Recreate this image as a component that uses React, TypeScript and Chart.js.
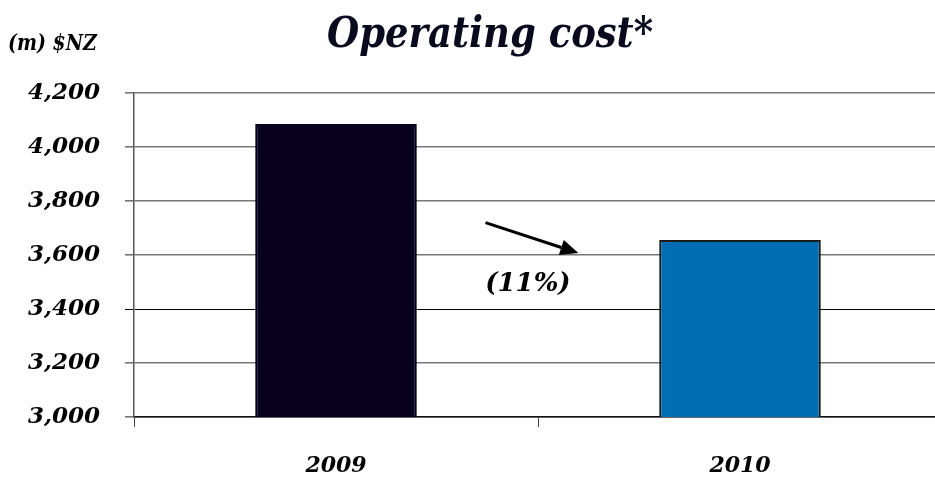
import React, { useEffect, useRef } from "react";
import { Chart, registerables } from "chart.js";

Chart.register(...registerables);

const categories = ["2009", "2010"];
const operatingCost = [4085, 3656];
const barColors = ["#06001c", "#006eb0"];
const barBorders = ["#06001c", "#1a1a1a"];
const yTicks = [3000, 3200, 3400, 3600, 3800, 4000, 4200];
const titleText = "Operating cost*";
const unitText = "(m) $NZ";
// arrow annotation endpoints: [category index position, value]
const arrowFrom = [0.37, 3720];
const arrowTo = [0.6, 3607];
const changeLabelAt = [0.475, 3492];

const W = 950;
const H = 479;

export default function App() {
  const ref = useRef<HTMLCanvasElement | null>(null);

  useEffect(() => {
    document.documentElement.style.overflow = "hidden";
    document.body.style.overflow = "hidden";
    document.body.style.margin = "0";
    const canvas = ref.current!;
    const pct = Math.round(
      Math.abs((operatingCost[1] - operatingCost[0]) / operatingCost[0]) * 100
    );

    const annot = {
      id: "annot",
      afterDraw(chart: any) {
        const ctx = chart.ctx as CanvasRenderingContext2D;
        const xs = chart.scales.x;
        const ys = chart.scales.y;
        const px = (v: number) => {
          const p0 = xs.getPixelForValue(0);
          const p1 = xs.getPixelForValue(1);
          return p0 + v * (p1 - p0);
        };
        // title (horizontally condensed)
        ctx.save();
        ctx.fillStyle = "#0a0a1e";
        ctx.textAlign = "center";
        ctx.textBaseline = "middle";
        ctx.translate(490, 36);
        ctx.scale(0.88, 1);
        ctx.font = "italic bold 42px 'DejaVu Serif', serif";
        ctx.fillText(titleText, 0, 0);
        ctx.restore();

        ctx.save();
        ctx.fillStyle = "#000";
        ctx.textAlign = "left";
        ctx.textBaseline = "middle";
        ctx.translate(8, 44);
        ctx.scale(0.86, 1);
        ctx.font = "italic bold 22px 'DejaVu Serif', serif";
        ctx.fillText(unitText, 0, 0);
        ctx.restore();

        ctx.save();
        // arrow
        const x1 = px(arrowFrom[0]);
        const y1 = ys.getPixelForValue(arrowFrom[1]);
        const x2 = px(arrowTo[0]);
        const y2 = ys.getPixelForValue(arrowTo[1]);
        const ang = Math.atan2(y2 - y1, x2 - x1);
        const headLen = 18;
        const headW = 8;
        const bx = x2 - headLen * Math.cos(ang);
        const by = y2 - headLen * Math.sin(ang);
        ctx.strokeStyle = "#000";
        ctx.lineWidth = 3;
        ctx.beginPath();
        ctx.moveTo(x1, y1);
        ctx.lineTo(bx, by);
        ctx.stroke();
        ctx.fillStyle = "#000";
        ctx.beginPath();
        ctx.moveTo(x2, y2);
        ctx.lineTo(bx + headW * Math.sin(ang), by - headW * Math.cos(ang));
        ctx.lineTo(bx - headW * Math.sin(ang), by + headW * Math.cos(ang));
        ctx.closePath();
        ctx.fill();

        // change label
        ctx.textAlign = "center";
        ctx.textBaseline = "middle";
        ctx.font = "italic bold 26px 'DejaVu Serif', serif";
        ctx.fillText(`(${pct}%)`, px(changeLabelAt[0]), ys.getPixelForValue(changeLabelAt[1]));
        ctx.restore();
      },
    };

    const tickFont = { family: "'DejaVu Serif', serif", style: "italic" as const, weight: "bold" as const, size: 23 };
    const xFont = { family: "'DejaVu Serif', serif", style: "italic" as const, weight: "bold" as const, size: 22 };

    const chart = new Chart(canvas, {
      type: "bar",
      data: {
        labels: categories,
        datasets: [
          {
            data: operatingCost,
            backgroundColor: barColors,
            borderColor: barBorders,
            borderWidth: 2,
            barPercentage: 0.4,
            categoryPercentage: 1,
          },
        ],
      },
      options: {
        responsive: false,
        animation: false,
        layout: { padding: { top: 93, right: 8, left: 0, bottom: 0 } },
        plugins: { legend: { display: false }, title: { display: false }, tooltip: { enabled: false } },
        scales: {
          x: {
            type: "category",
            offset: true,
            afterFit: (s: any) => {
              s.height = 62;
            },
            grid: {
              offset: true,
              drawOnChartArea: false,
              tickLength: 10,
              color: "#444",
              lineWidth: 1,
            },
            border: { display: true, color: "#111", width: 1.5 },
            ticks: { font: xFont, color: "#000", padding: 26 },
          },
          y: {
            min: 3000,
            max: 4200,
            afterFit: (s: any) => {
              s.width = 134;
            },
            afterBuildTicks: (s: any) => {
              s.ticks = yTicks.map((v) => ({ value: v }));
            },
            grid: {
              tickLength: 9,
              color: (c: any) => (c.tick && c.tick.value === 3400 ? "#000" : "#767676"),
              lineWidth: (c: any) => (c.tick && c.tick.value === 3400 ? 1 : 1.6),
            },
            border: { display: true, color: "#555", width: 1.5 },
            ticks: {
              font: tickFont,
              color: "#000",
              padding: 25,
              callback: (v: any) => Number(v).toLocaleString("en-US"),
            },
          },
        },
      },
      plugins: [annot],
    });
    return () => chart.destroy();
  }, []);

  return (
    <div style={{ position: "fixed", left: 0, top: 0, width: W, height: H, background: "#fff" }}>
      <canvas ref={ref} width={W} height={H} style={{ width: W, height: H, display: "block" }} />
    </div>
  );
}
